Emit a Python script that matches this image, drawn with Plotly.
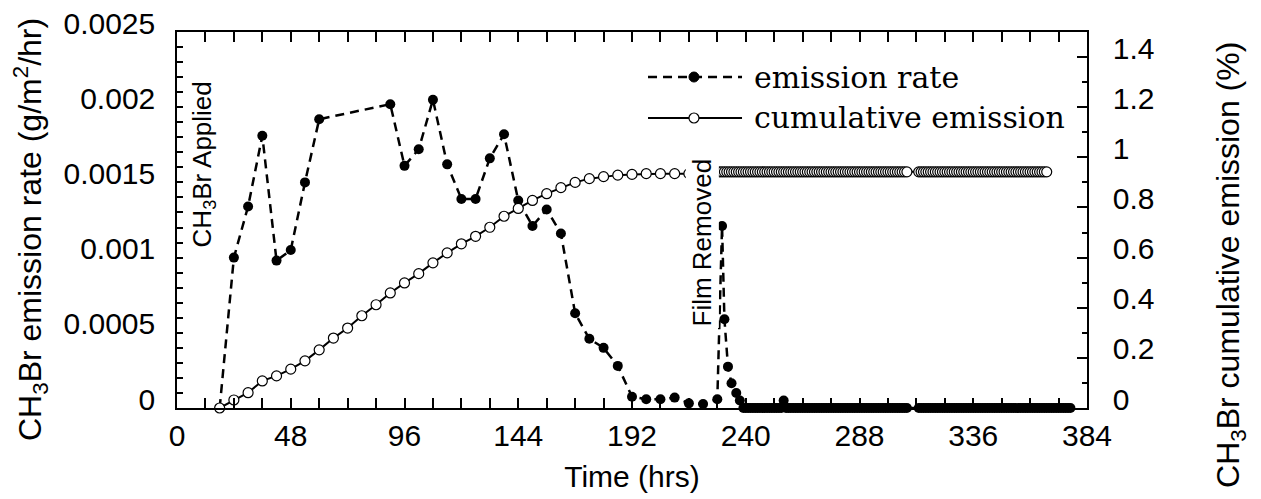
import plotly.graph_objects as go

# ---------------- data ----------------
# Emission rate, g/m2/hr
rate_hours = [18, 24, 30, 36, 42, 48, 54, 60, 90, 96, 102, 108, 114, 120, 126, 132,
              138, 144, 150, 156, 162, 168, 174, 180, 186, 192, 198, 204, 210, 216,
              222, 228, 230, 231, 232.5, 234, 236, 237.5,
              239, 240, 241, 242, 243, 244, 245, 246, 247, 248, 249, 250, 251, 252,
              253, 254, 255, 256, 257, 258, 259, 260, 261, 262, 263, 264, 265, 266,
              267, 268, 269, 270, 271, 272, 273, 274, 275, 276, 277, 278, 279, 280,
              281, 282, 283, 284, 285, 286, 287, 288, 289, 290, 291, 292, 293, 294,
              295, 296, 297, 298, 299, 300, 301, 302, 303, 304, 305, 306, 307, 308,
              313, 314, 315, 316, 317, 318, 319, 320, 321, 322, 323, 324, 325, 326,
              327, 328, 329, 330, 331, 332, 333, 334, 335, 336, 337, 338, 339, 340,
              341, 342, 343, 344, 345, 346, 347, 348, 349, 350, 351, 352, 353, 354,
              355, 356, 357, 358, 359, 360, 361, 362, 363, 364, 365, 366, 367, 368,
              369, 370, 371, 372, 373, 374, 375, 376, 377]
rate_values = [0.0, 0.00100, 0.00134, 0.00181, 0.00098, 0.00105, 0.00150, 0.00192,
               0.00202, 0.00161, 0.00172, 0.00205, 0.00162, 0.00139, 0.00139, 0.00166,
               0.00182, 0.00138, 0.00121, 0.00132, 0.00116, 0.00063, 0.00046, 0.00040,
               0.00028, 0.000075, 0.000058, 0.000058, 0.000069, 0.000031,
               0.000027, 0.000058, 0.00121, 0.00059, 0.000275, 0.000164, 0.00010, 0.00005,
               0, 0, 0, 0, 0, 0, 0, 0, 0, 0, 0, 0, 0, 0,
               0, 0, 0, 0.00005, 0, 0, 0, 0, 0, 0, 0, 0, 0, 0,
               0, 0, 0, 0, 0, 0, 0, 0, 0, 0, 0, 0, 0, 0,
               0, 0, 0, 0, 0, 0, 0, 0, 0, 0, 0, 0, 0, 0,
               0, 0, 0, 0, 0, 0, 0, 0, 0, 0, 0, 0, 0, 0,
               0, 0, 0, 0, 0, 0, 0, 0, 0, 0, 0, 0, 0, 0,
               0, 0, 0, 0, 0, 0, 0, 0, 0, 0, 0, 0, 0, 0,
               0, 0, 0, 0, 0, 0, 0, 0, 0, 0, 0, 0, 0, 0,
               0, 0, 0, 0, 0, 0, 0, 0, 0, 0, 0, 0, 0, 0,
               0, 0, 0, 0, 0, 0, 0, 0, 0]

# Cumulative emission, %
cum_hours = [18, 24, 30, 36, 42, 48, 54, 60, 66, 72, 78, 84, 90, 96, 102, 108, 114,
             120, 126, 132, 138, 144, 150, 156, 162, 168, 174, 180, 186, 192, 198,
             204, 210, 216,
             229, 230, 231, 232, 233, 234, 235, 236, 237, 238, 239, 240, 241, 242,
             243, 244, 245, 246, 247, 248, 249, 250, 251, 252, 253, 254, 255, 256,
             257, 258, 259, 260, 261, 262, 263, 264, 265, 266, 267, 268, 269, 270,
             271, 272, 273, 274, 275, 276, 277, 278, 279, 280, 281, 282, 283, 284,
             285, 286, 287, 288, 289, 290, 291, 292, 293, 294, 295, 296, 297, 298,
             299, 300, 301, 302, 303, 304, 305, 306, 307, 308,
             313, 314, 315, 316, 317, 318, 319, 320, 321, 322, 323, 324, 325, 326,
             327, 328, 329, 330, 331, 332, 333, 334, 335, 336, 337, 338, 339, 340,
             341, 342, 343, 344, 345, 346, 347, 348, 349, 350, 351, 352, 353, 354,
             355, 356, 357, 358, 359, 360, 361, 362, 363, 364, 365, 366, 367, 368,
             369, 370, 371, 372, 373, 374, 375, 376, 377]
cum_values = [0.0, 0.032, 0.061, 0.108, 0.128, 0.155, 0.188, 0.232, 0.279, 0.319,
              0.368, 0.412, 0.459, 0.499, 0.536, 0.579, 0.619, 0.655, 0.685, 0.721,
              0.765, 0.796, 0.828, 0.855, 0.879, 0.900, 0.915, 0.923, 0.929, 0.932,
              0.935, 0.935, 0.935, 0.935,
              0.942, 0.942, 0.942, 0.942, 0.942, 0.942, 0.942, 0.942, 0.942, 0.942,
              0.942, 0.942, 0.942, 0.942, 0.942, 0.942, 0.942, 0.942, 0.942, 0.942,
              0.942, 0.942, 0.942, 0.942, 0.942, 0.942, 0.942, 0.942, 0.942, 0.942,
              0.942, 0.942, 0.942, 0.942, 0.942, 0.942, 0.942, 0.942, 0.942, 0.942,
              0.942, 0.942, 0.942, 0.942, 0.942, 0.942, 0.942, 0.942, 0.942, 0.942,
              0.942, 0.942, 0.942, 0.942, 0.942, 0.942, 0.942, 0.942, 0.942, 0.942,
              0.942, 0.942, 0.942, 0.942, 0.942, 0.942, 0.942, 0.942, 0.942, 0.942,
              0.942, 0.942, 0.942, 0.942, 0.942, 0.942, 0.942, 0.942, 0.942, 0.942,
              0.942, 0.942, 0.942, 0.942, 0.942, 0.942, 0.942, 0.942, 0.942, 0.942,
              0.942, 0.942, 0.942, 0.942, 0.942, 0.942, 0.942, 0.942, 0.942, 0.942,
              0.942, 0.942, 0.942, 0.942, 0.942, 0.942, 0.942, 0.942, 0.942, 0.942,
              0.942, 0.942, 0.942, 0.942, 0.942, 0.942, 0.942, 0.942, 0.942, 0.942,
              0.942, 0.942, 0.942, 0.942, 0.942, 0.942, 0.942, 0.942, 0.942, 0.942,
              0.942, 0.942, 0.942, 0.942, 0.942]

y_tickvals = [0, 0.0005, 0.001, 0.0015, 0.002, 0.0025]
y_ticktext = ["0", "0.0005", "0.001", "0.0015", "0.002", "0.0025"]
y2_tickvals = [0, 0.2, 0.4, 0.6, 0.8, 1.0, 1.2, 1.4]
y2_ticktext = ["0", "0.2", "0.4", "0.6", "0.8", "1", "1.2", "1.4"]

legend_labels = ["emission rate", "cumulative emission"]
y_title = "CH<sub>3</sub>Br emission rate (g/m<sup>2</sup>/hr)"
y2_title = "CH<sub>3</sub>Br cumulative emission (%)"

SANS = "Liberation Sans, Arial, sans-serif"
SERIF = "DejaVu Serif, serif"

fig = go.Figure()
fig.add_trace(go.Scatter(
    x=rate_hours, y=rate_values, mode="lines+markers", name=legend_labels[0],
    line=dict(color="black", width=2.5, dash="9px,6px"),
    marker=dict(color="black", size=10), cliponaxis=False, showlegend=False))
fig.add_trace(go.Scatter(
    x=cum_hours, y=cum_values, yaxis="y2", mode="lines+markers", name=legend_labels[1],
    line=dict(color="black", width=2),
    marker=dict(color="white", size=10, line=dict(color="black", width=1.2)),
    cliponaxis=False, showlegend=False))

axis_common = dict(showgrid=False, zeroline=False, showline=True, linecolor="black",
                   linewidth=1.5, ticks="inside", tickcolor="black", tickwidth=1.5,
                   ticklabeloverflow="allow", automargin=False,
                   tickfont=dict(family=SANS, size=30, color="black"))

# page body has an 8px margin, so the figure is sized/shifted to compensate
fig.update_layout(
    width=1250, height=488, plot_bgcolor="white", paper_bgcolor="white",
    margin=dict(l=169, r=171, t=24, b=88, autoexpand=False),
    xaxis=dict(range=[0, 384], tickmode="linear", tick0=0, dtick=24, ticklabelstep=2,
               ticklen=10, mirror="allticks", ticklabelstandoff=0,
               minor=dict(tickmode="linear", tick0=0, dtick=12, ticklen=5, ticks="inside",
                          tickcolor="black", tickwidth=1.5),
               title=dict(text="Time (hrs)", font=dict(family=SANS, size=30, color="black"),
                          standoff=15),
               **axis_common),
    yaxis=dict(range=[0, 0.0025], tickmode="array", tickvals=y_tickvals, ticktext=y_ticktext,
               ticklen=6, ticklabelstandoff=14, ticklabelshift=-9,
               minor=dict(tickmode="linear", tick0=0, dtick=0.0001, ticklen=6, ticks="inside",
                          tickcolor="black", tickwidth=1.5),
               **axis_common),
    yaxis2=dict(range=[0, 1.5], overlaying="y", side="right", tickmode="array",
                tickvals=y2_tickvals, ticktext=y2_ticktext, ticklen=10,
                ticklabelstandoff=18, ticklabelshift=-9,
                minor=dict(tickmode="linear", tick0=0, dtick=0.1, ticklen=5, ticks="inside",
                           tickcolor="black", tickwidth=1.5),
                **axis_common),
)

# axis titles as rotated annotations (precise placement)
fig.add_annotation(x=-0.1615, y=0.4734, xref="paper", yref="paper", text=y_title,
                   textangle=-90, showarrow=False, xanchor="center", yanchor="middle",
                   font=dict(family=SANS, size=32, color="black"))
fig.add_annotation(x=1.1571, y=0.3803, xref="paper", yref="paper", text=y2_title,
                   textangle=-90, showarrow=False, xanchor="center", yanchor="middle",
                   font=dict(family=SANS, size=32, color="black"))

# in-plot labels
fig.add_annotation(x=11, y=0.00162, xref="x", yref="y", text="CH<sub>3</sub>Br Applied",
                   textangle=-90, showarrow=False,
                   font=dict(family=SANS, size=26, color="black"))
fig.add_annotation(x=221.5, y=0.0011, xref="x", yref="y", text="Film Removed",
                   textangle=-90, showarrow=False, bgcolor="white",
                   font=dict(family=SANS, size=26, color="black"))

# legend (drawn manually for long sample lines)
leg_rows = [0.8803, 0.7713]
fig.add_shape(type="line", xref="paper", yref="paper", x0=0.5176, x1=0.6209,
              y0=leg_rows[0], y1=leg_rows[0], line=dict(color="black", width=2.5, dash="9px,6px"))
fig.add_shape(type="circle", xref="paper", yref="paper", xsizemode="pixel", ysizemode="pixel",
              xanchor=0.5681, yanchor=leg_rows[0], x0=-5, x1=5, y0=-5, y1=5,
              fillcolor="black", line=dict(color="black", width=1))
fig.add_shape(type="line", xref="paper", yref="paper", x0=0.5176, x1=0.6209,
              y0=leg_rows[1], y1=leg_rows[1], line=dict(color="black", width=2))
fig.add_shape(type="circle", xref="paper", yref="paper", xsizemode="pixel", ysizemode="pixel",
              xanchor=0.5681, yanchor=leg_rows[1], x0=-5, x1=5, y0=-5, y1=5,
              fillcolor="white", line=dict(color="black", width=1.2))
for lbl, yy in zip(legend_labels, leg_rows):
    fig.add_annotation(x=0.6319, y=yy, xref="paper", yref="paper", text=lbl,
                       xanchor="left", yanchor="middle", showarrow=False,
                       font=dict(family=SERIF, size=30, color="black"))

fig.write_html("out.html")
